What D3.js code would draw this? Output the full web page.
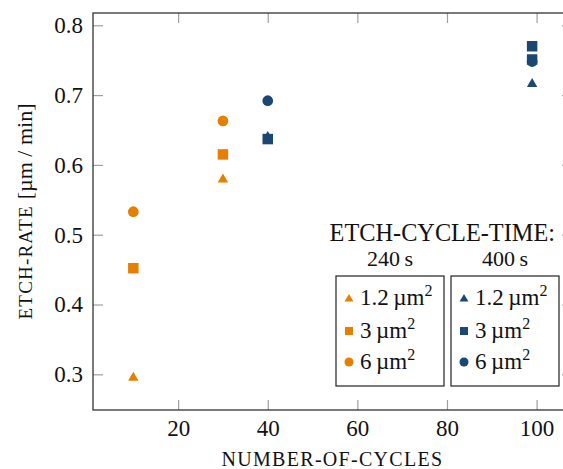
<!doctype html>
<html>
<head>
<meta charset="utf-8">
<style>
  body { margin: 0; background: #fff; }
  svg { font-family: "Liberation Serif", "DejaVu Serif", serif; }
</style>
<script src="https://d3js.org/d3.v7.min.js"></script>
</head>
<body>
<svg width="563" height="469" class="svg1"></svg>
<script>
// data
var areas = ["1.2", "3", "6"];
var times = ["240 s", "400 s"];
var xTicks = [20, 40, 60, 80, 100];
var yTicks = [0.3, 0.4, 0.5, 0.6, 0.7, 0.8];

var cyc240 = [10, 30];
var tri240 = [0.295, 0.579];
var sq240 = [0.452, 0.615];
var circ240 = [0.533, 0.663];

var cyc400 = [40, 99];
var tri400 = [0.640, 0.716];
var circ400 = [0.692, 0.748];
var cycSq400 = [40, 99, 99];
var sq400 = [0.637, 0.770, 0.751];

var orange = "#e67e00", blue = "#1b4872";

var svg = d3.select(".svg1"),
    pLeft = 93, pRight = 572, pTop = 13, pBottom = 410;

var x = d3.scaleLinear().domain([1.0, 107.9]).range([pLeft, pRight]);
var y = d3.scaleLinear().domain([0.2489, 0.8176]).range([pBottom, pTop]);

// inward ticks on all four sides
function tickStyle(g) {
  g.select(".domain").remove();
  g.selectAll(".tick line").attr("stroke", "#a0a0a0").attr("stroke-width", 1.2);
  g.selectAll(".tick text").attr("font-family", "Liberation Serif").attr("font-size", 23).attr("fill", "#111");
}
svg.append("g").attr("transform", "translate(0," + pBottom + ")")
   .call(d3.axisBottom(x).tickValues(xTicks).tickSize(-10).tickPadding(10).tickFormat(d3.format("d")))
   .call(tickStyle);
svg.append("g").attr("transform", "translate(0," + pTop + ")")
   .call(d3.axisTop(x).tickValues(xTicks).tickSize(-10).tickFormat(""))
   .call(tickStyle);
svg.append("g").attr("transform", "translate(" + pLeft + ",0)")
   .call(d3.axisLeft(y).tickValues(yTicks).tickSize(-10).tickPadding(10).tickFormat(d3.format(".1f")))
   .call(tickStyle);
svg.append("g").attr("transform", "translate(" + pRight + ",0)")
   .call(d3.axisRight(y).tickValues(yTicks).tickSize(-10).tickFormat(""))
   .call(tickStyle);

svg.append("rect")
   .attr("x", pLeft).attr("y", pTop)
   .attr("width", pRight - pLeft).attr("height", pBottom - pTop)
   .attr("fill", "none").attr("stroke", "#333").attr("stroke-width", 1.3);

// axis labels
svg.append("text")
   .attr("x", (pLeft + pRight) / 2).attr("y", 466)
   .attr("text-anchor", "middle").attr("font-size", 20).attr("letter-spacing", 1.3)
   .attr("fill", "#111")
   .text("NUMBER-OF-CYCLES");

var yl = svg.append("text")
   .attr("transform", "translate(32," + ((pTop + pBottom) / 2) + ") rotate(-90)")
   .attr("text-anchor", "middle").attr("fill", "#111");
yl.append("tspan").attr("font-size", 19).attr("letter-spacing", 1.2).text("ETCH-RATE ");
yl.append("tspan").attr("font-size", 22).text("[µm / min]");

// markers
var symTri = d3.symbol().type(d3.symbolTriangle).size(47);
var symSq = d3.symbol().type(d3.symbolSquare).size(110);
var symCirc = d3.symbol().type(d3.symbolCircle).size(90);

function plotSeries(xs, ys, sym, color) {
  svg.append("g").selectAll("path")
     .data(ys.map(function(v, i) { return {c: xs[i], v: v}; }))
     .enter().append("path")
     .attr("d", sym)
     .attr("fill", color)
     .attr("transform", function(d) { return "translate(" + x(d.c) + "," + y(d.v) + ")"; });
}
plotSeries(cyc240, tri240, symTri, orange);
plotSeries(cyc240, sq240, symSq, orange);
plotSeries(cyc240, circ240, symCirc, orange);
plotSeries(cyc400, tri400, symTri, blue);
plotSeries(cycSq400, sq400, symSq, blue);
plotSeries(cyc400, circ400, symCirc, blue);

// legend
svg.append("text")
   .attr("x", 555).attr("y", 241)
   .attr("text-anchor", "end").attr("font-size", 24.3).attr("fill", "#111")
   .text("ETCH-CYCLE-TIME:");

var legSyms = [
  d3.symbol().type(d3.symbolTriangle).size(34),
  d3.symbol().type(d3.symbolSquare).size(64),
  d3.symbol().type(d3.symbolCircle).size(64)
];
var boxes = [{x: 336, color: orange}, {x: 451, color: blue}];
var rowY = [305, 338, 369];

boxes.forEach(function(b, bi) {
  var g = svg.append("g");
  g.append("text")
   .attr("x", b.x + 54).attr("y", 266)
   .attr("text-anchor", "middle").attr("font-size", 22).attr("fill", "#111")
   .text(times[bi].replace(" ", "\u2009"));
  g.append("rect")
   .attr("x", b.x).attr("y", 276).attr("width", 108).attr("height", 110)
   .attr("fill", "#fff").attr("stroke", "#222").attr("stroke-width", 1.2);
  areas.forEach(function(a, i) {
    g.append("path")
     .attr("d", legSyms[i])
     .attr("fill", b.color)
     .attr("transform", "translate(" + (b.x + 13) + "," + (rowY[i] - (i === 0 ? 6 : 7)) + ")");
    var t = g.append("text")
     .attr("x", b.x + 24).attr("y", rowY[i])
     .attr("font-size", 23).attr("fill", "#111");
    t.append("tspan").text(a + "\u2009µm");
    t.append("tspan").attr("font-size", 16).attr("dy", -9).text("2");
  });
});
</script>
</body>
</html>
